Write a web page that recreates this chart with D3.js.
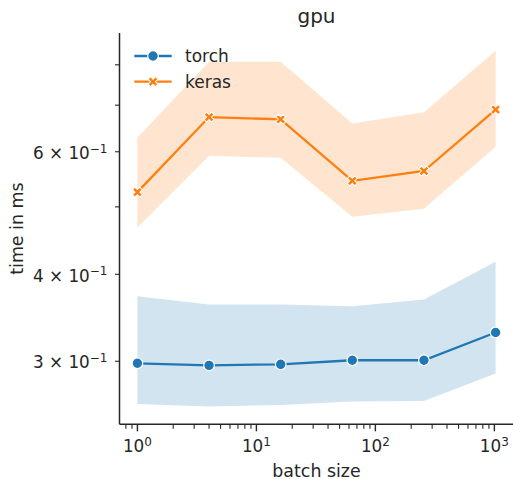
<!DOCTYPE html>
<html lang="en">
<head>
<meta charset="UTF-8">
<title>gpu</title>
<script src="https://cdn.jsdelivr.net/npm/d3@7"></script>
<style>
  body { margin: 0; background: #fff; }
  text { font-family: "DejaVu Sans", sans-serif; fill: #262626; }
</style>
</head>
<body>
<script>
// data
var batchSizes = [1, 4, 16, 64, 256, 1024];
var torchMean = [0.298, 0.296, 0.297, 0.301, 0.301, 0.330];
var torchLow  = [0.2605, 0.2583, 0.2596, 0.2626, 0.2631, 0.2881];
var torchHigh = [0.372, 0.362, 0.362, 0.360, 0.368, 0.417];
var kerasMean = [0.525, 0.673, 0.668, 0.545, 0.563, 0.690];
var kerasLow  = [0.467, 0.592, 0.588, 0.484, 0.497, 0.610];
var kerasHigh = [0.629, 0.808, 0.808, 0.659, 0.684, 0.838];

var seriesNames = ["torch", "keras"];
var xTickValues = [1, 10, 100, 1000];
var xTickExp = ["0", "1", "2", "3"];
var yTickValues = [0.3, 0.4, 0.6];
var yTickMant = ["3", "4", "6"];
var yMinorValues = [0.5, 0.7, 0.8];

var width = 513, height = 479;
// plot box (note: "top" is taken by window.top)
var pLeft = 119.5, pRight = 513.5, pTop = 33, pBottom = 424.3;
var ink = "#262626";

// matplotlib style 5% margin, in log space
function logPad(lo, hi) {
    var a = Math.log10(lo), b = Math.log10(hi), p = (b - a) * 0.05;
    return [Math.pow(10, a - p), Math.pow(10, b + p)];
}

var allVals = torchLow.concat(torchHigh, kerasLow, kerasHigh);
var x = d3.scaleLog().domain(logPad(d3.min(batchSizes), d3.max(batchSizes))).range([pLeft, pRight]);
var y = d3.scaleLog().domain(logPad(d3.min(allVals), d3.max(allVals))).range([pBottom, pTop]);

var svg = d3.select("body").append("svg")
    .attr("width", width)
    .attr("height", height);

var series = [
    { name: seriesNames[0], mean: torchMean, lo: torchLow, hi: torchHigh, color: "#1f77b4", marker: "circle" },
    { name: seriesNames[1], mean: kerasMean, lo: kerasLow, hi: kerasHigh, color: "#ff7f0e", marker: "x" }
];

// bands
var area = d3.area()
    .x(function(d, i){ return x(batchSizes[i]); })
    .y0(function(d){ return y(d[0]); })
    .y1(function(d){ return y(d[1]); });

series.forEach(function(s){
    var pts = s.lo.map(function(v, i){ return [v, s.hi[i]]; });
    svg.append("path")
        .attr("d", area(pts))
        .attr("fill", s.color)
        .attr("fill-opacity", 0.2);
});

var line = d3.line()
    .x(function(d, i){ return x(batchSizes[i]); })
    .y(function(d){ return y(d); });

var xSym = d3.symbol(d3.symbolCross, 62);

function drawMarker(g, s, cx, cy) {
    if (s.marker == "circle") {
        g.append("circle")
            .attr("cx", cx).attr("cy", cy).attr("r", 5.3)
            .attr("fill", s.color)
            .attr("stroke", "#fff").attr("stroke-width", 1.2);
    } else {
        g.append("path")
            .attr("d", xSym())
            .attr("transform", "translate(" + cx + "," + cy + ") rotate(45)")
            .attr("fill", s.color)
            .attr("stroke", "#fff").attr("stroke-width", 1);
    }
}

series.forEach(function(s){
    svg.append("path")
        .attr("d", line(s.mean))
        .attr("fill", "none")
        .attr("stroke", s.color)
        .attr("stroke-width", 2.3);
    var g = svg.append("g");
    s.mean.forEach(function(v, i){
        drawMarker(g, s, x(batchSizes[i]), y(v));
    });
});

// spines
svg.append("line")
    .attr("x1", pLeft).attr("x2", pRight).attr("y1", pBottom).attr("y2", pBottom)
    .attr("stroke", ink).attr("stroke-width", 1.5);
svg.append("line")
    .attr("x1", pLeft).attr("x2", pLeft).attr("y1", pTop).attr("y2", pBottom)
    .attr("stroke", ink).attr("stroke-width", 1.5);

// x ticks
var xd = x.domain();
var xMinor = [];
for (var e = -1; e <= 3; e++) {
    for (var k = 2; k <= 9; k++) {
        var v = k * Math.pow(10, e);
        if (v >= xd[0] && v <= xd[1]) xMinor.push(v);
    }
}
var gx = svg.append("g");
gx.selectAll(".xminor").data(xMinor).enter().append("line")
    .attr("x1", function(d){ return x(d); }).attr("x2", function(d){ return x(d); })
    .attr("y1", pBottom).attr("y2", pBottom + 4.5)
    .attr("stroke", ink).attr("stroke-width", 1.1);
gx.selectAll(".xmajor").data(xTickValues).enter().append("line")
    .attr("x1", function(d){ return x(d); }).attr("x2", function(d){ return x(d); })
    .attr("y1", pBottom).attr("y2", pBottom + 7)
    .attr("stroke", ink).attr("stroke-width", 1.4);
var xt = gx.selectAll(".xlab").data(xTickValues).enter().append("text")
    .attr("x", function(d){ return x(d); })
    .attr("y", 452.3)
    .attr("text-anchor", "middle")
    .style("font-size", "16.8px");
xt.append("tspan").text("10");
xt.append("tspan")
    .attr("dy", -6.3)
    .style("font-size", "12px")
    .text(function(d, i){ return xTickExp[i]; });

// y ticks
var gy = svg.append("g");
gy.selectAll(".ytick").data(yTickValues.concat(yMinorValues)).enter().append("line")
    .attr("x1", pLeft - 4.5).attr("x2", pLeft)
    .attr("y1", function(d){ return y(d); }).attr("y2", function(d){ return y(d); })
    .attr("stroke", ink).attr("stroke-width", 1.1);
var yt = gy.selectAll(".ylab").data(yTickValues).enter().append("text")
    .attr("x", 107.5)
    .attr("y", function(d){ return y(d) + 7.2; })
    .attr("text-anchor", "end")
    .style("font-size", "16.8px");
yt.append("tspan").text(function(d, i){ return yTickMant[i] + " \u00d7 10"; });
yt.append("tspan")
    .attr("dy", -6.3)
    .style("font-size", "12px")
    .text("\u22121");

// labels
svg.append("text")
    .attr("x", (pLeft + pRight) / 2).attr("y", 23)
    .attr("text-anchor", "middle")
    .style("font-size", "20px")
    .text("gpu");
svg.append("text")
    .attr("x", (pLeft + pRight) / 2).attr("y", 476.5)
    .attr("text-anchor", "middle")
    .style("font-size", "17.4px")
    .text("batch size");
svg.append("text")
    .attr("transform", "translate(23.3," + ((pTop + pBottom) / 2) + ") rotate(-90)")
    .attr("text-anchor", "middle")
    .style("font-size", "17.4px")
    .text("time in ms");

// legend
var legendY = [56, 81.7];
series.forEach(function(s, i){
    var g = svg.append("g");
    g.append("line")
        .attr("x1", 134.3).attr("x2", 171.7)
        .attr("y1", legendY[i]).attr("y2", legendY[i])
        .attr("stroke", s.color).attr("stroke-width", 2.3);
    drawMarker(g, s, 153, legendY[i]);
    g.append("text")
        .attr("x", 185).attr("y", legendY[i])
        .attr("dy", "0.36em")
        .style("font-size", "17px")
        .text(s.name);
});
</script>
</body>
</html>
